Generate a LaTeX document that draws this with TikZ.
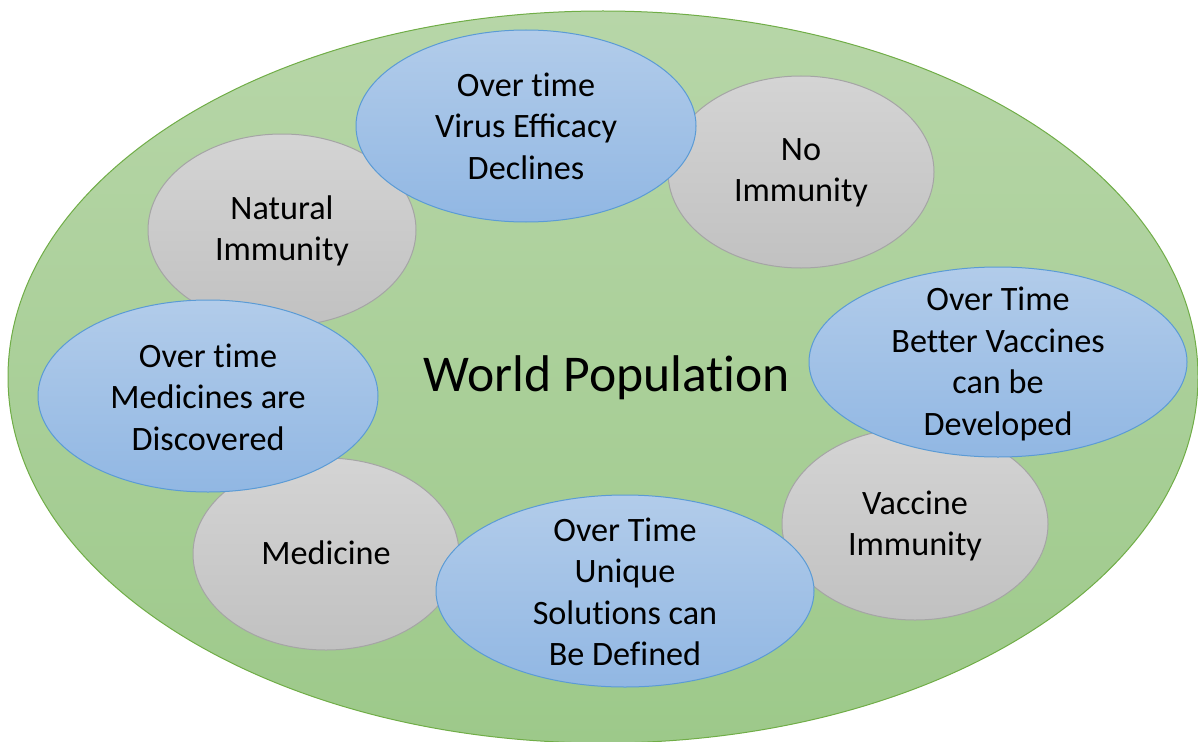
\documentclass[tikz,border=0pt]{standalone}
\usepackage{fontspec}
\setmainfont{Carlito}[Ligatures=NoCommon]
\definecolor{greenTop}{RGB}{183,214,168}
\definecolor{greenBot}{RGB}{157,201,138}
\definecolor{greenLine}{RGB}{112,173,71}
\definecolor{grayTop}{RGB}{212,212,212}
\definecolor{grayBot}{RGB}{193,193,193}
\definecolor{grayLine}{RGB}{165,165,165}
\definecolor{blueTop}{RGB}{178,204,234}
\definecolor{blueBot}{RGB}{145,183,227}
\definecolor{blueLine}{RGB}{91,155,213}
\tikzset{
  world/.style={top color=greenTop, bottom color=greenBot, draw=greenLine, line width=1pt},
  grayell/.style={top color=grayTop, bottom color=grayBot, draw=grayLine, line width=1pt},
  blueell/.style={top color=blueTop, bottom color=blueBot, draw=blueLine, line width=1pt},
  lbl/.style={align=center, inner sep=0pt, font=\fontsize{34.2}{41.5}\selectfont, text=black},
  title/.style={inner sep=0pt, font=\fontsize{51.6}{60}\selectfont, text=black}
}
\begin{document}
\begin{tikzpicture}[x=1pt, y=-1pt]
\useasboundingbox (0,0) rectangle (1198,741);
% world
\path[world] (603,377) ellipse [x radius=595, y radius=366];
% gray ellipses
\path[grayell] (282,230) ellipse [x radius=134, y radius=96];
\path[grayell] (801,172) ellipse [x radius=133, y radius=96];
\path[grayell] (326,554) ellipse [x radius=133, y radius=96];
\path[grayell] (915,524) ellipse [x radius=133, y radius=96];
% blue ellipses
\path[blueell] (526,126) ellipse [x radius=170, y radius=96];
\path[blueell] (208,396) ellipse [x radius=170, y radius=96];
\path[blueell] (998,362) ellipse [x radius=189, y radius=95];
\path[blueell] (625,591) ellipse [x radius=189, y radius=96];
% labels
\node[lbl] (natural) at (282,231) {Natural\\Immunity};
\node[lbl] (noimm) at (801,173) {No\\Immunity};
\node[lbl] (medicine) at (326,553) {Medicine};
\node[lbl] (vaccimm) at (915,526) {Vaccine\\Immunity};
\node[lbl] (virus) at (526,126) {Over time\\Virus Eﬃcacy\\Declines};
\node[lbl] (meds) at (208,397) {Over time\\Medicines are\\Discovered};
\node[lbl] (better) at (998,364) {Over Time\\Better Vaccines\\can be\\Developed};
\node[lbl] (unique) at (625,592) {Over Time\\Unique\\Solutions can\\Be Defined};
\node[title] (world) at (607,378) {World Population};
\end{tikzpicture}
\end{document}
